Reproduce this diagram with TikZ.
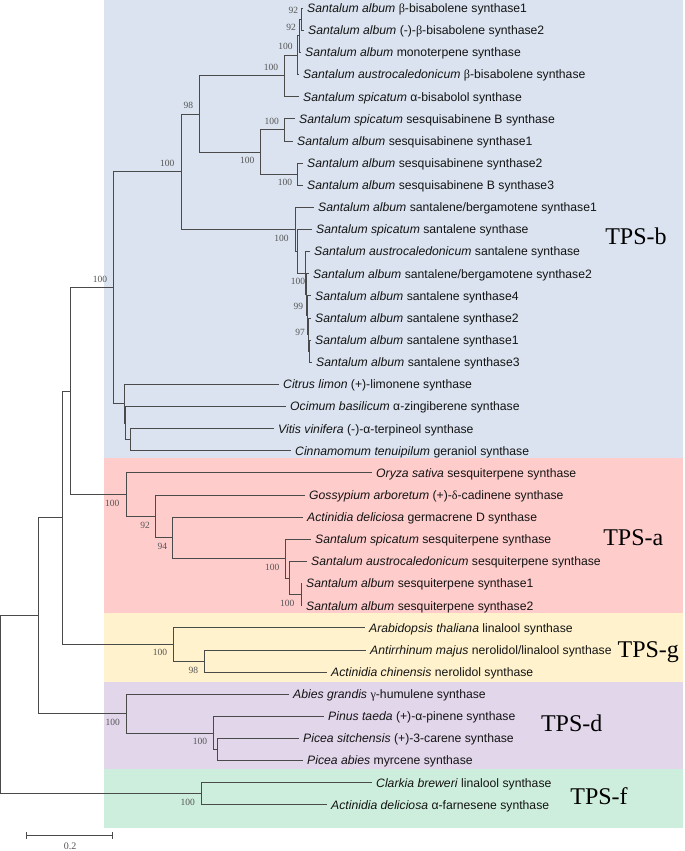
\documentclass[tikz,border=0pt]{standalone}
\usepackage{fontspec}
\setmainfont{Liberation Serif}
\setsansfont{Liberation Sans}
\definecolor{bandb}{HTML}{DAE3EF}
\definecolor{banda}{HTML}{FFCCCC}
\definecolor{bandg}{HTML}{FFF2CC}
\definecolor{bandd}{HTML}{E2D6EB}
\definecolor{bandf}{HTML}{CDEEDC}
\definecolor{linec}{HTML}{4A4A4A}
\definecolor{textc}{HTML}{141414}
\definecolor{bsc}{HTML}{555555}
\newcommand\gk[1]{{\rmfamily #1}}
\begin{document}
\begin{tikzpicture}[x=1pt,y=-1pt,
  br/.style={draw=linec, line width=1pt},
  leaf/.style={anchor=base west, inner sep=0pt, xshift=4pt, yshift=-4.3pt, font=\sffamily\fontsize{12.2}{14}\selectfont, text=textc},
  bs/.style={inner sep=0pt, font=\fontsize{9.5}{10}\selectfont, text=bsc},
  grp/.style={anchor=base, inner sep=0pt, font=\fontsize{24}{26}\selectfont, text=black}]
\useasboundingbox (0,0) rectangle (685,851);
% background bands
\fill[bandb] (104,0) rectangle (683,457.7);
\fill[banda] (104,457.7) rectangle (683,613.3);
\fill[bandg] (104,613.3) rectangle (683,681.7);
\fill[bandd] (104,681.7) rectangle (683,769.3);
\fill[bandf] (104,769.3) rectangle (683,827.7);
% leaf tips
\coordinate (t0) at (303,8.2);
\coordinate (t1) at (304,30.3);
\coordinate (t2) at (301,52.5);
\coordinate (t3) at (299,74.6);
\coordinate (t4) at (299,96.7);
\coordinate (t5) at (295,118.9);
\coordinate (t6) at (293,141.0);
\coordinate (t7) at (303,163.1);
\coordinate (t8) at (303,185.2);
\coordinate (t9) at (314,207.4);
\coordinate (t10) at (312,229.5);
\coordinate (t11) at (310,251.6);
\coordinate (t12) at (309,273.8);
\coordinate (t13) at (311,295.9);
\coordinate (t14) at (311,318.0);
\coordinate (t15) at (311,340.2);
\coordinate (t16) at (312,362.3);
\coordinate (t17) at (279,384.4);
\coordinate (t18) at (286,406.5);
\coordinate (t19) at (274,428.7);
\coordinate (t20) at (291,450.8);
\coordinate (t21) at (372,472.9);
\coordinate (t22) at (305,495.1);
\coordinate (t23) at (303,517.2);
\coordinate (t24) at (311,539.3);
\coordinate (t25) at (307,561.5);
\coordinate (t26) at (302,583.6);
\coordinate (t27) at (302,605.7);
\coordinate (t28) at (365,627.8);
\coordinate (t29) at (366,650.0);
\coordinate (t30) at (327,672.1);
\coordinate (t31) at (289,694.2);
\coordinate (t32) at (324,716.4);
\coordinate (t33) at (299,738.5);
\coordinate (t34) at (303,760.6);
\coordinate (t35) at (372,782.8);
\coordinate (t36) at (327,804.9);
% internal nodes
\coordinate (B7) at (301,19.25);
\coordinate (B6) at (299,35.9);
\coordinate (B5) at (297.3,55.25);
\coordinate (B3) at (284.3,75.98);
\coordinate (B4a) at (284.3,129.95);
\coordinate (B4b) at (297.7,174.15);
\coordinate (B4) at (260.7,152.05);
\coordinate (B2) at (199,114.0);
\coordinate (S7) at (309,351.25);
\coordinate (S6) at (308.3,334.6);
\coordinate (S5) at (307.7,315.25);
\coordinate (S4) at (306.7,294.5);
\coordinate (S3) at (305.7,273.05);
\coordinate (S2) at (297.3,251.3);
\coordinate (S1) at (295.7,229.35);
\coordinate (B1) at (181,171.7);
\coordinate (O3) at (130.7,439.75);
\coordinate (O2) at (125.3,423.1);
\coordinate (O1) at (124,403.75);
\coordinate (BT) at (113.3,287.7);
\coordinate (A6) at (301,594.65);
\coordinate (A5) at (289.3,578.1);
\coordinate (A4) at (285.7,558.7);
\coordinate (A3) at (172.7,537.95);
\coordinate (A2) at (155.7,516.5);
\coordinate (A1) at (126,494.7);
\coordinate (N3) at (70,391.2);
\coordinate (G2) at (204.3,661.05);
\coordinate (G1) at (173.3,644.4);
\coordinate (N2) at (62.3,517.8);
\coordinate (D3) at (217.3,749.55);
\coordinate (D2) at (213.3,733.0);
\coordinate (D1) at (126,713.6);
\coordinate (N1) at (38.3,615.7);
\coordinate (F1) at (201,793.85);
\coordinate (R) at (0.7,704.8);
% branches
\draw[br] (B7) |- (t0) (B7) |- (t1);
\draw[br] (B6) |- (B7) (B6) |- (t2);
\draw[br] (B5) |- (B6) (B5) |- (t3);
\draw[br] (B3) |- (B5) (B3) |- (t4);
\draw[br] (B4a) |- (t5) (B4a) |- (t6);
\draw[br] (B4b) |- (t7) (B4b) |- (t8);
\draw[br] (B4) |- (B4a) (B4) |- (B4b);
\draw[br] (B2) |- (B3) (B2) |- (B4);
\draw[br] (S7) |- (t15) (S7) |- (t16);
\draw[br] (S6) |- (t14) (S6) |- (S7);
\draw[br] (S5) |- (t13) (S5) |- (S6);
\draw[br] (S4) |- (t12) (S4) |- (S5);
\draw[br] (S3) |- (t11) (S3) |- (S4);
\draw[br] (S2) |- (t10) (S2) |- (S3);
\draw[br] (S1) |- (t9) (S1) |- (S2);
\draw[br] (B1) |- (B2) (B1) |- (S1);
\draw[br] (O3) |- (t19) (O3) |- (t20);
\draw[br] (O2) |- (t18) (O2) |- (O3);
\draw[br] (O1) |- (t17) (O1) |- (O2);
\draw[br] (BT) |- (B1) (BT) |- (O1);
\draw[br] (A6) |- (t26) (A6) |- (t27);
\draw[br] (A5) |- (t25) (A5) |- (A6);
\draw[br] (A4) |- (t24) (A4) |- (A5);
\draw[br] (A3) |- (t23) (A3) |- (A4);
\draw[br] (A2) |- (t22) (A2) |- (A3);
\draw[br] (A1) |- (t21) (A1) |- (A2);
\draw[br] (N3) |- (BT) (N3) |- (A1);
\draw[br] (G2) |- (t29) (G2) |- (t30);
\draw[br] (G1) |- (t28) (G1) |- (G2);
\draw[br] (N2) |- (N3) (N2) |- (G1);
\draw[br] (D3) |- (t33) (D3) |- (t34);
\draw[br] (D2) |- (t32) (D2) |- (D3);
\draw[br] (D1) |- (t31) (D1) |- (D2);
\draw[br] (N1) |- (N2) (N1) |- (D1);
\draw[br] (F1) |- (t35) (F1) |- (t36);
\draw[br] (R) |- (N1) (R) |- (F1);
% leaf labels
\node[leaf] (n0) at (t0) {\textit{Santalum album} \gk{β}-bisabolene synthase1};
\node[leaf] (n1) at (t1) {\textit{Santalum album} (-)-\gk{β}-bisabolene synthase2};
\node[leaf] (n2) at (t2) {\textit{Santalum album} monoterpene synthase};
\node[leaf] (n3) at (t3) {\textit{Santalum austrocaledonicum} \gk{β}-bisabolene synthase};
\node[leaf] (n4) at (t4) {\textit{Santalum spicatum} α-bisabolol synthase};
\node[leaf] (n5) at (t5) {\textit{Santalum spicatum} sesquisabinene B synthase};
\node[leaf] (n6) at (t6) {\textit{Santalum album} sesquisabinene synthase1};
\node[leaf] (n7) at (t7) {\textit{Santalum album} sesquisabinene synthase2};
\node[leaf] (n8) at (t8) {\textit{Santalum album} sesquisabinene B synthase3};
\node[leaf] (n9) at (t9) {\textit{Santalum album} santalene/bergamotene synthase1};
\node[leaf] (n10) at (t10) {\textit{Santalum spicatum} santalene synthase};
\node[leaf] (n11) at (t11) {\textit{Santalum austrocaledonicum} santalene synthase};
\node[leaf] (n12) at (t12) {\textit{Santalum album} santalene/bergamotene synthase2};
\node[leaf] (n13) at (t13) {\textit{Santalum album} santalene synthase4};
\node[leaf] (n14) at (t14) {\textit{Santalum album} santalene synthase2};
\node[leaf] (n15) at (t15) {\textit{Santalum album} santalene synthase1};
\node[leaf] (n16) at (t16) {\textit{Santalum album} santalene synthase3};
\node[leaf] (n17) at (t17) {\textit{Citrus limon} (+)-limonene synthase};
\node[leaf] (n18) at (t18) {\textit{Ocimum basilicum} α-zingiberene synthase};
\node[leaf] (n19) at (t19) {\textit{Vitis vinifera} (-)-α-terpineol synthase};
\node[leaf] (n20) at (t20) {\textit{Cinnamomum tenuipilum} geraniol synthase};
\node[leaf] (n21) at (t21) {\textit{Oryza sativa} sesquiterpene synthase};
\node[leaf] (n22) at (t22) {\textit{Gossypium arboretum} (+)-\gk{δ}-cadinene synthase};
\node[leaf] (n23) at (t23) {\textit{Actinidia deliciosa} germacrene D synthase};
\node[leaf] (n24) at (t24) {\textit{Santalum spicatum} sesquiterpene synthase};
\node[leaf] (n25) at (t25) {\textit{Santalum austrocaledonicum} sesquiterpene synthase};
\node[leaf] (n26) at (t26) {\textit{Santalum album} sesquiterpene synthase1};
\node[leaf] (n27) at (t27) {\textit{Santalum album} sesquiterpene synthase2};
\node[leaf] (n28) at (t28) {\textit{Arabidopsis thaliana} linalool synthase};
\node[leaf] (n29) at (t29) {\textit{Antirrhinum majus} nerolidol/linalool synthase};
\node[leaf] (n30) at (t30) {\textit{Actinidia chinensis} nerolidol synthase};
\node[leaf] (n31) at (t31) {\textit{Abies grandis} \gk{γ}-humulene synthase};
\node[leaf] (n32) at (t32) {\textit{Pinus taeda} (+)-α-pinene synthase};
\node[leaf] (n33) at (t33) {\textit{Picea sitchensis} (+)-3-carene synthase};
\node[leaf] (n34) at (t34) {\textit{Picea abies} myrcene synthase};
\node[leaf] (n35) at (t35) {\textit{Clarkia breweri} linalool synthase};
\node[leaf] (n36) at (t36) {\textit{Actinidia deliciosa} α-farnesene synthase};
% bootstrap values
\node[bs] (v1) at (293.3,10.7) {92};
\node[bs] (v2) at (291,27.7) {92};
\node[bs] (v3) at (285.5,46.7) {100};
\node[bs] (v4) at (271,67) {100};
\node[bs] (v5) at (188.3,105.3) {98};
\node[bs] (v6) at (167.3,163.3) {100};
\node[bs] (v7) at (271.7,121) {100};
\node[bs] (v8) at (247.3,160.7) {100};
\node[bs] (v9) at (285,182.7) {100};
\node[bs] (v10) at (281.5,238.3) {100};
\node[bs] (v11) at (298,281) {100};
\node[bs] (v12) at (298.3,306.7) {99};
\node[bs] (v13) at (300,332) {97};
\node[bs] (v14) at (100,279.3) {100};
\node[bs] (v15) at (112.3,503.3) {100};
\node[bs] (v16) at (145,525) {92};
\node[bs] (v17) at (162.3,546.7) {94};
\node[bs] (v18) at (272.3,567.3) {100};
\node[bs] (v19) at (287.3,603.3) {100};
\node[bs] (v20) at (160,652.7) {100};
\node[bs] (v21) at (193.3,670) {98};
\node[bs] (v22) at (112.7,722.7) {100};
\node[bs] (v23) at (200,741.7) {100};
\node[bs] (v24) at (187.7,802.7) {100};
% group labels
\node[grp] (gb) at (636,244) {TPS-b};
\node[grp] (ga) at (633.3,545) {TPS-a};
\node[grp] (gg) at (648.3,657.5) {TPS-g};
\node[grp] (gd) at (571.7,731.5) {TPS-d};
\node[grp] (gf) at (599,804.2) {TPS-f};
% scale bar
\coordinate (sb1) at (26.7,835.7);
\coordinate (sb2) at (112.3,835.7);
\coordinate (sb1a) at (26.7,832.3);
\coordinate (sb1b) at (26.7,839.3);
\coordinate (sb2a) at (112.3,832.3);
\coordinate (sb2b) at (112.3,839.3);
\draw[br] (sb1) -- (sb2);
\draw[br] (sb1a) -- (sb1b);
\draw[br] (sb2a) -- (sb2b);
\node[bs, font=\fontsize{10}{11}\selectfont] (sbl) at (70,846) {0.2};
\end{tikzpicture}
\end{document}
